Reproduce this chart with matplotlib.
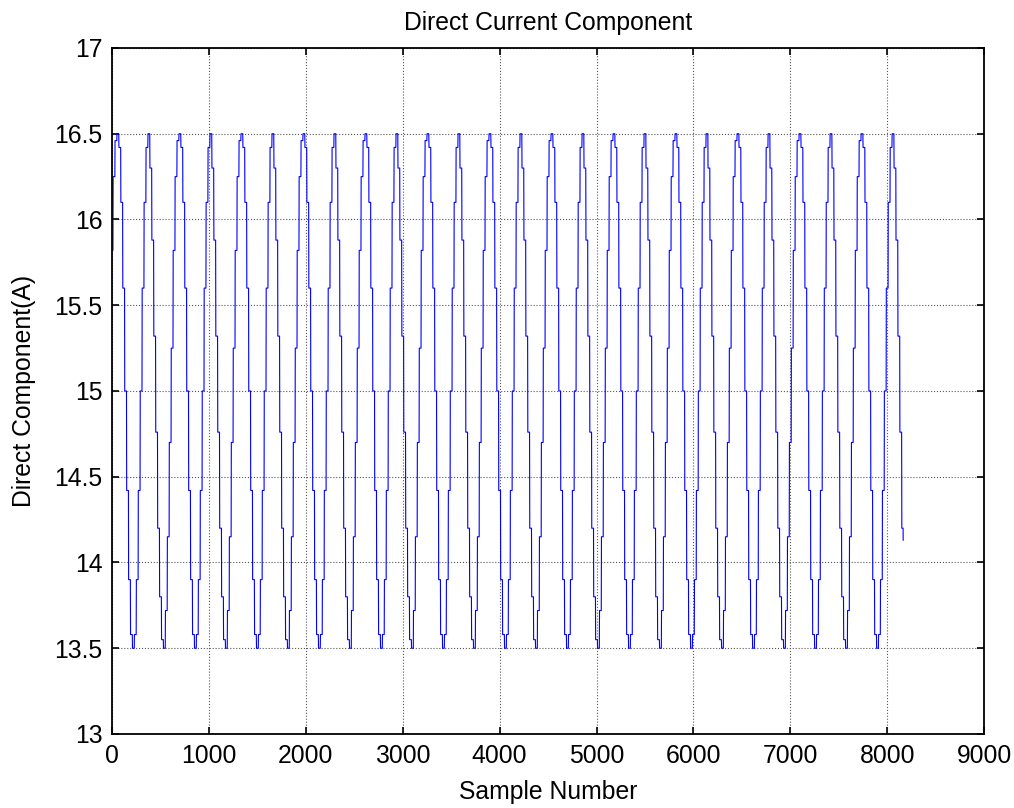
#!/usr/bin/env python3
import numpy as np
import matplotlib
matplotlib.use("Agg")
import matplotlib.pyplot as plt

# staircase levels of one period (starts at the peak block)
# the kinks sit at two different sets of levels from cycle to cycle
period_levels_a = [16.5, 16.42, 16.1, 15.6, 15.0, 14.42, 13.9, 13.58,
                   13.5, 13.58, 13.9, 14.42, 15.0, 15.6, 16.1, 16.42]
period_levels_b = [16.5, 16.3, 15.88, 15.32, 14.76, 14.2, 13.8, 13.55,
                   13.5, 13.72, 14.15, 14.7, 15.25, 15.82, 16.25, 16.46]
hold_len = 20          # samples each level is held
first_peak_start = 50  # sample where the first peak block begins
n_samples = 8165
tail_values = [14.13]  # last point of the record

x_ticks = [0, 1000, 2000, 3000, 4000, 5000, 6000, 7000, 8000, 9000]
y_ticks = [13, 13.5, 14, 14.5, 15, 15.5, 16, 16.5, 17]

plt.rcParams['font.family'] = ['Liberation Sans', 'DejaVu Sans']

# build the sample series from the read periods, alternating the two kinds
two_periods = np.repeat(period_levels_a + period_levels_b, hold_len)
n_per = len(two_periods)
shift = (-first_peak_start) % n_per
values = np.tile(two_periods, n_samples // n_per + 3)[shift:shift + n_samples]
values = np.concatenate([values, tail_values])
samples = np.arange(len(values))

fig = plt.figure(figsize=(10.14, 8.08), dpi=100)
ax = fig.add_axes([0.1105, 0.0916, 0.8600, 0.8490])

ax.plot(samples, values, color=(0, 0, 1), lw=0.8)

ax.set_xlim(0, 9000)
ax.set_ylim(13, 17)
ax.set_xticks(x_ticks)
ax.set_yticks(y_ticks)
ax.set_yticklabels([("%g" % v) for v in y_ticks])

ax.grid(True, linestyle=':', color='0.35', lw=0.8)
ax.tick_params(direction='in', length=5, width=1.2, top=True, right=True,
               labelsize=17.8, pad=7)
for s in ax.spines.values():
    s.set_linewidth(1.3)

ax.set_title('Direct Current Component', fontsize=17.8, pad=13)
ax.set_xlabel('Sample Number', fontsize=17.8, labelpad=9)
ax.set_ylabel('Direct Component(A)', fontsize=17.8, labelpad=13)

fig.savefig('out.png', dpi=100)
plt.close()
